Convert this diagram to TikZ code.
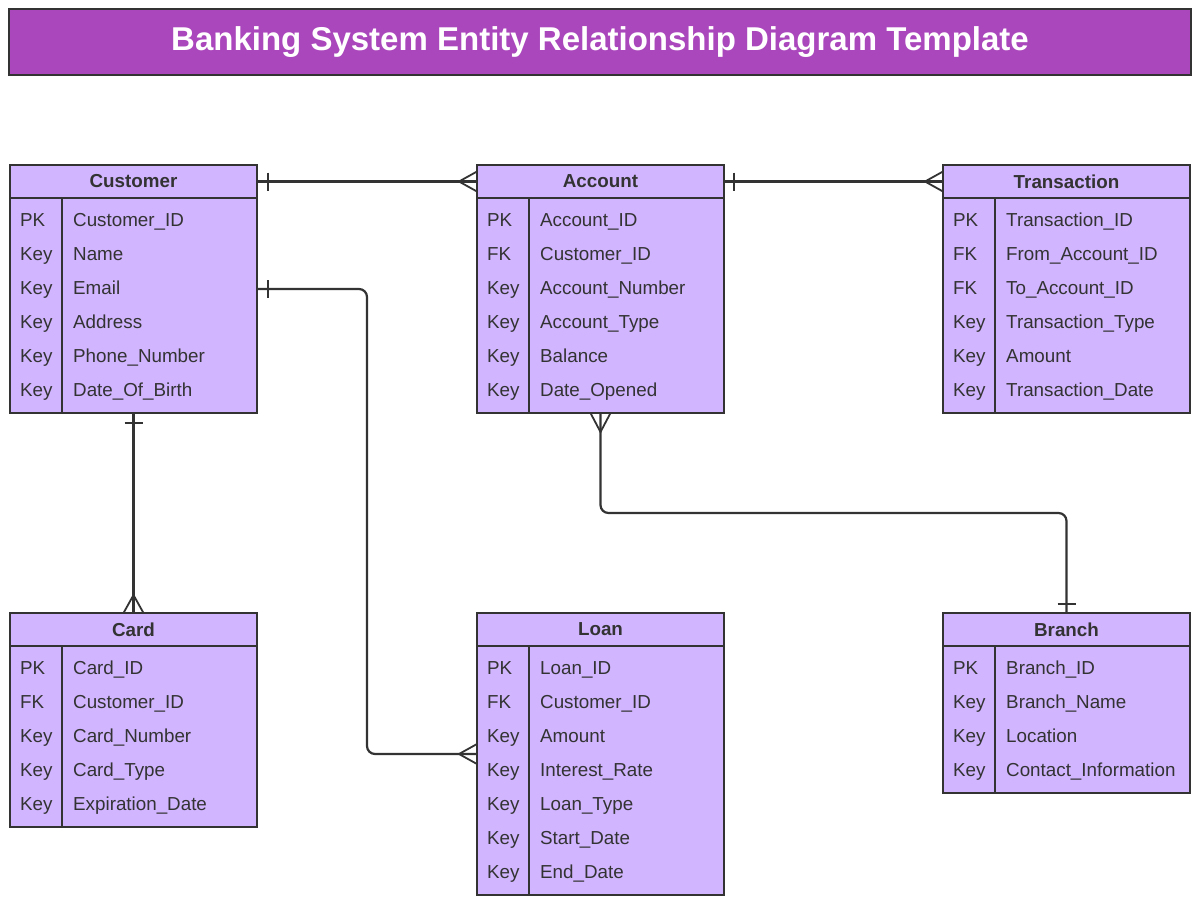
\documentclass[tikz,border=0pt]{standalone}
\usepackage{fontspec}
\setmainfont{Liberation Sans}
\usetikzlibrary{calc,positioning,fit}
\definecolor{erpurple}{RGB}{171,71,188}
\definecolor{erlilac}{RGB}{209,181,255}
\definecolor{erink}{RGB}{51,51,51}
\tikzset{
  ehead/.style={draw=erink,line width=1.5pt,fill=erlilac,minimum width=247pt,minimum height=33pt,
                inner sep=0pt,outer sep=0pt,font=\fontsize{18.8}{20}\selectfont\bfseries,text=erink},
  ebody/.style={draw=erink,line width=1.5pt,fill=erlilac,minimum width=247pt,inner sep=0pt,outer sep=0pt},
  ecell/.style={anchor=base west,inner sep=0pt,font=\fontsize{18.8}{20}\selectfont,text=erink},
  link/.style={draw=erink,line width=2.2pt,rounded corners=8pt},
  tick/.style={draw=erink,line width=1.8pt}
}
\newcommand{\erentity}[6]{% id, x, y, title, rows, key/field list
  \node[ehead,anchor=north west] (#1-head) at (#2,#3) {#4};
  \node[ebody,minimum height=11+34*#5,below=0pt of #1-head] (#1-body) {};
  \draw[tick] ([xshift=52pt]#1-body.north west) -- ([xshift=52pt]#1-body.south west);
  \foreach \k/\f [count=\i] in {#6} {
    \node[ecell] (#1-k\i) at ($(#1-body.north west)+(10,34*\i-6)$) {\k};
    \node[ecell] (#1-\i) at ($(#1-body.north west)+(63,34*\i-6)$) {\f};
  }
  \node[fit=(#1-head)(#1-body),inner sep=0pt,outer sep=0pt] (#1) {};
}

\begin{document}
\begin{tikzpicture}[x=1pt,y=-1pt,
  titlebar/.style={draw=erink,line width=1.5pt,fill=erpurple,minimum width=1182pt,minimum height=66pt,
                   text=white,font=\fontsize{33}{36}\selectfont\bfseries}]
  \useasboundingbox (0,0) rectangle (1200,906);
  \node[titlebar] (title) at (600,42) {Banking System Entity Relationship Diagram Template};

  \erentity{cust}{10}{165}{Customer}{6}{PK/Customer\_ID,Key/Name,Key/Email,Key/Address,Key/Phone\_Number,Key/Date\_Of\_Birth}
  \erentity{acct}{477}{165}{Account}{6}{PK/Account\_ID,FK/Customer\_ID,Key/Account\_Number,Key/Account\_Type,Key/Balance,Key/Date\_Opened}
  \erentity{tran}{943}{165}{Transaction}{6}{PK/Transaction\_ID,FK/From\_Account\_ID,FK/To\_Account\_ID,Key/Transaction\_Type,Key/Amount,Key/Transaction\_Date}
  \erentity{card}{10}{613}{Card}{5}{PK/Card\_ID,FK/Customer\_ID,Key/Card\_Number,Key/Card\_Type,Key/Expiration\_Date}
  \erentity{loan}{477}{613}{Loan}{7}{PK/Loan\_ID,FK/Customer\_ID,Key/Amount,Key/Interest\_Rate,Key/Loan\_Type,Key/Start\_Date,Key/End\_Date}
  \erentity{branch}{943}{613}{Branch}{4}{PK/Branch\_ID,Key/Branch\_Name,Key/Location,Key/Contact\_Information}

  % customer 1 -- n account
  \draw[link] (cust-head.east) -- (acct-head.west);
  \draw[tick] ([xshift=11pt,yshift=9pt]cust-head.east) -- ([xshift=11pt,yshift=-9pt]cust-head.east);
  \draw[tick] ([yshift=10pt]acct-head.west) -- ([xshift=-18pt]acct-head.west) -- ([yshift=-10pt]acct-head.west);
  % account 1 -- n transaction
  \draw[link] (acct-head.east) -- (tran-head.west);
  \draw[tick] ([xshift=10pt,yshift=9pt]acct-head.east) -- ([xshift=10pt,yshift=-9pt]acct-head.east);
  \draw[tick] ([yshift=10pt]tran-head.west) -- ([xshift=-18pt]tran-head.west) -- ([yshift=-10pt]tran-head.west);
  % customer 1 -- n loan
  \draw[link] (cust.east) -| ($(cust.east)!.5!(loan.west)$) |- (loan.west);
  \draw[tick] ([xshift=11pt,yshift=9pt]cust.east) -- ([xshift=11pt,yshift=-9pt]cust.east);
  \draw[tick] ([yshift=10pt]loan.west) -- ([xshift=-18pt]loan.west) -- ([yshift=-10pt]loan.west);
  % customer 1 -- n card
  \draw[link] (cust.south) -- (card.north);
  \draw[tick] ([xshift=-9pt,yshift=-10pt]cust.south) -- ([xshift=9pt,yshift=-10pt]cust.south);
  \draw[tick] ([xshift=-10pt]card.north) -- ([yshift=18pt]card.north) -- ([xshift=10pt]card.north);
  % branch 1 -- n account
  \draw[link] (acct.south) |- ($(acct.south)!.5!(branch.north)$) -| (branch.north);
  \draw[tick] ([xshift=-10pt]acct.south) -- ([yshift=-19pt]acct.south) -- ([xshift=10pt]acct.south);
  \draw[tick] ([xshift=-9pt,yshift=9pt]branch.north) -- ([xshift=9pt,yshift=9pt]branch.north);
\end{tikzpicture}
\end{document}
